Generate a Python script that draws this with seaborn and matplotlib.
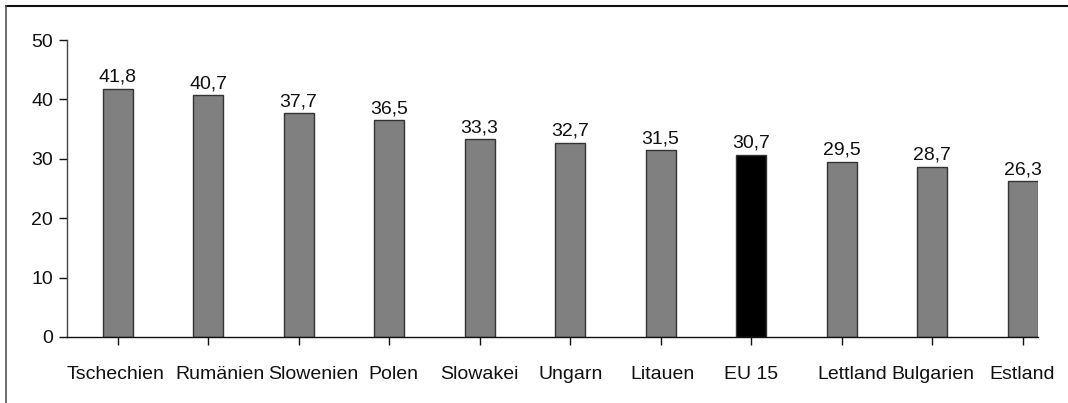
import matplotlib
matplotlib.use("Agg")
import matplotlib.pyplot as plt
import matplotlib.transforms as mtransforms
import seaborn as sns
import pandas as pd
from matplotlib.lines import Line2D

countries = ["Tschechien", "Rumänien", "Slowenien", "Polen", "Slowakei", "Ungarn",
             "Litauen", "EU 15", "Lettland", "Bulgarien", "Estland"]
values = [41.8, 40.7, 37.7, 36.5, 33.3, 32.7, 31.5, 30.7, 29.5, 28.7, 26.3]
yticks = [0, 10, 20, 30, 40, 50]

# horizontal nudges (px) of the category labels as placed in the original
label_nudge_px = [-2, 12, 15, 4, 0, 1, 2, 0, 11, 1, 0]

sns.set_theme(style="ticks")
plt.rcParams["font.family"] = ["Liberation Sans", "DejaVu Sans"]

df = pd.DataFrame({"Land": countries, "Wert": values})
palette = {c: ("#000000" if c == "EU 15" else "#808080") for c in countries}

fig = plt.figure(figsize=(10.68, 4.03), dpi=100)
ax = fig.add_axes([0.0627, 0.1638, 0.9719 - 0.0627, 0.9007 - 0.1638])

sns.barplot(data=df, x="Land", y="Wert", hue="Land", palette=palette, legend=False,
            width=0.33, edgecolor="#333333", linewidth=1.0, saturation=1, ax=ax)

for cont in ax.containers:
    ax.bar_label(cont, labels=[f"{v:.1f}".replace(".", ",") for v in cont.datavalues],
                 padding=2, fontsize=14, color="#111111")

ax.set_ylim(0, 50)
ax.set_xlim(-0.56, 10.17)
ax.set_yticks(yticks)
ax.set_yticklabels([str(t) for t in yticks])
ax.set_xlabel("")
ax.set_ylabel("")
ax.tick_params(axis="both", labelsize=14, colors="#111111", length=6, width=1)
ax.tick_params(axis="x", pad=15)
ax.tick_params(axis="y", pad=4)
for lab, dx in zip(ax.get_xticklabels(), label_nudge_px):
    lab.set_transform(lab.get_transform() +
                      mtransforms.ScaledTranslation(dx / 100, 0, fig.dpi_scale_trans))
for s in ["top", "right"]:
    ax.spines[s].set_visible(False)
ax.spines["left"].set_color("#444444")
ax.spines["bottom"].set_color("#111111")
ax.spines["left"].set_linewidth(1)
ax.spines["bottom"].set_linewidth(1)

# outer frame (top and left edges)
fig.add_artist(Line2D([6 / 1068, 1.0], [1 - 6 / 403, 1 - 6 / 403], transform=fig.transFigure,
                      color="#111111", linewidth=1.5))
fig.add_artist(Line2D([6 / 1068, 6 / 1068], [0.0, 1 - 6 / 403], transform=fig.transFigure,
                      color="#555555", linewidth=1.2))

fig.savefig("out.png", dpi=100)
